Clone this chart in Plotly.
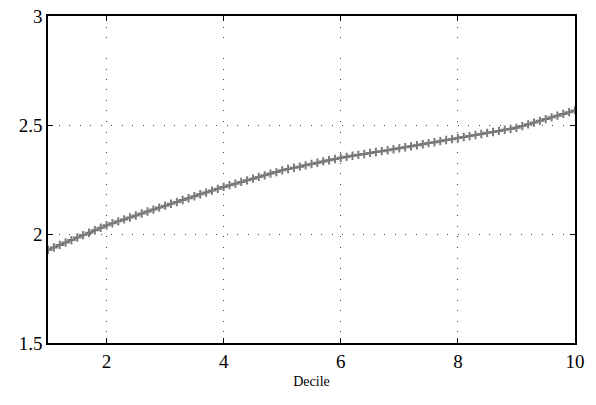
import plotly.graph_objects as go

# decile positions (step of 0.1 between deciles 1 and 10)
x_vals = [round(1 + i / 10, 1) for i in range(91)]

y_vals = [
    1.927, 1.938, 1.950, 1.961, 1.972, 1.984, 1.995, 2.006, 2.017, 2.029, 2.040,
    2.049, 2.058, 2.067, 2.076, 2.085, 2.094, 2.103, 2.112, 2.121, 2.130,
    2.139, 2.147, 2.156, 2.164, 2.173, 2.182, 2.190, 2.199, 2.207, 2.216,
    2.224, 2.231, 2.239, 2.246, 2.254, 2.262, 2.269, 2.277, 2.284, 2.292,
    2.298, 2.304, 2.309, 2.315, 2.321, 2.327, 2.333, 2.338, 2.344, 2.350,
    2.354, 2.359, 2.363, 2.367, 2.372, 2.376, 2.380, 2.384, 2.389, 2.393,
    2.398, 2.402, 2.407, 2.412, 2.417, 2.421, 2.426, 2.431, 2.435, 2.440,
    2.445, 2.449, 2.454, 2.459, 2.464, 2.468, 2.473, 2.478, 2.482, 2.487,
    2.495, 2.503, 2.511, 2.519, 2.527, 2.535, 2.543, 2.551, 2.559, 2.567,
]

x_ticks = [2, 4, 6, 8, 10]
y_ticks = [1.5, 2, 2.5, 3]
y_tick_labels = ["1.5", "2", "2.5", "3"]

fig = go.Figure()
fig.add_trace(go.Scatter(
    x=x_vals, y=y_vals, mode="lines+markers",
    line=dict(color="#7a7a7a", width=2),
    marker=dict(symbol="cross-thin", size=6, line=dict(color="#7a7a7a", width=2), color="#7a7a7a"),
    showlegend=False,
))

font_family = "Liberation Serif, DejaVu Serif, serif"
fig.update_layout(
    width=596, height=405,
    margin=dict(l=48, r=21, t=16, b=62, autoexpand=False),
    paper_bgcolor="white", plot_bgcolor="white",
    font=dict(family=font_family, color="black"),
)
common = dict(
    ticks="inside", ticklen=5, tickcolor="black", tickwidth=1,
    showline=True, linecolor="black", linewidth=1.5, mirror="ticks",
    showgrid=True, gridcolor="#444444", gridwidth=1, griddash="1px,9.5px",
    zeroline=False, tickfont=dict(size=19, family=font_family), automargin=False,
)
fig.update_xaxes(
    range=[1, 10], tickvals=x_ticks, ticktext=[str(v) for v in x_ticks],
    title=dict(text="Decile", font=dict(size=14, family=font_family), standoff=6),
    **common,
)
fig.update_yaxes(
    range=[1.5, 3], tickvals=y_ticks, ticktext=y_tick_labels,
    **common,
)
fig.write_html(
    "out.html",
    config={"displayModeBar": False},
    post_script="document.body.style.margin='0';document.body.style.padding='0';",
)
